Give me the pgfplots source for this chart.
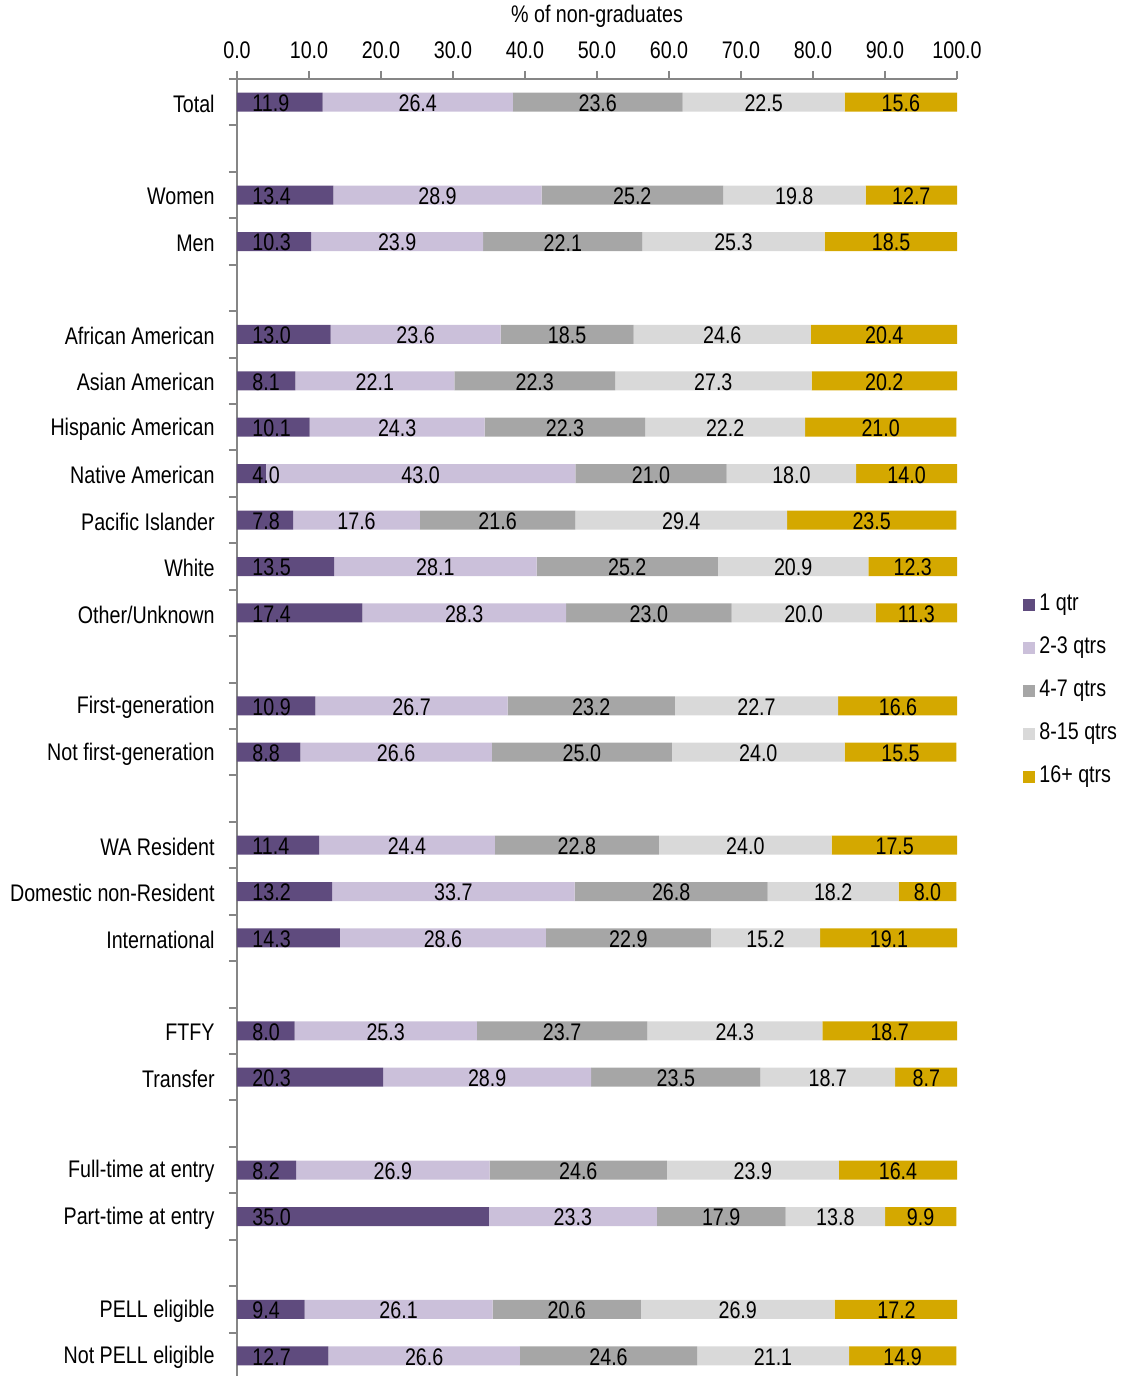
\documentclass[border=0pt]{standalone}
\usepackage{fontspec}
\setmainfont{Liberation Sans}[FakeStretch=0.82]
\usepackage{pgfplots}
\usepackage{pgfplotstable}
\pgfplotsset{compat=1.18}
\definecolor{c1}{HTML}{5F4B7E}
\definecolor{c2}{HTML}{CBC0DA}
\definecolor{c3}{HTML}{A6A6A6}
\definecolor{c4}{HTML}{D9D9D9}
\definecolor{c5}{HTML}{D4A800}
\definecolor{axgray}{HTML}{868686}
\newcommand\lf{\fontsize{12pt}{14pt}\selectfont}
\pgfplotstableread{
pos a b c d e
27 11.9 26.4 23.6 22.5 15.6
25 13.4 28.9 25.2 19.8 12.7
24 10.3 23.9 22.1 25.3 18.5
22 13.0 23.6 18.5 24.6 20.4
21 8.1 22.1 22.3 27.3 20.2
20 10.1 24.3 22.3 22.2 21.0
19 4.0 43.0 21.0 18.0 14.0
18 7.8 17.6 21.6 29.4 23.5
17 13.5 28.1 25.2 20.9 12.3
16 17.4 28.3 23.0 20.0 11.3
14 10.9 26.7 23.2 22.7 16.6
13 8.8 26.6 25.0 24.0 15.5
11 11.4 24.4 22.8 24.0 17.5
10 13.2 33.7 26.8 18.2 8.0
9 14.3 28.6 22.9 15.2 19.1
7 8.0 25.3 23.7 24.3 18.7
6 20.3 28.9 23.5 18.7 8.7
4 8.2 26.9 24.6 23.9 16.4
3 35.0 23.3 17.9 13.8 9.9
1 9.4 26.1 20.6 26.9 17.2
0 12.7 26.6 24.6 21.1 14.9
}\data
\begin{document}
\begin{tikzpicture}
\begin{axis}[
  at={(0,0)}, anchor=north west,
  width=360pt, height=650pt, scale only axis,
  xbar stacked, bar width=9.5pt,
  xmin=0, xmax=100, ymin=-0.5, ymax=27.5,
  axis x line*=top, axis y line*=left,
  axis line style={draw=axgray, line width=1pt},
  tick style={draw=axgray, line width=1pt},
  tick align=outside, major tick length=4pt,
  xtick={0,10,...,100},
  scaled x ticks=false,
  /pgf/number format/assume math mode=true,
  xticklabel style={font=\lf, yshift=2.5pt, /pgf/number format/.cd, fixed, fixed zerofill, precision=1},
  xlabel={\% of non-graduates},
  xlabel style={font=\lf, at={(axis description cs:0.5,1)}, anchor=base, yshift=28pt},
  ytick={-0.5,0.5,...,27.5},
  yticklabels={},
  extra y ticks={27,25,24,22,21,20,19,18,17,16,14,13,11,10,9,7,6,4,3,1,0},
  extra y tick labels={Total,Women,Men,African American,Asian American,Hispanic American,Native American,Pacific Islander,White,Other/Unknown,First-generation,Not first-generation,WA Resident,Domestic non-Resident,International,FTFY,Transfer,Full-time at entry,Part-time at entry,PELL eligible,Not PELL eligible},
  extra y tick style={major tick length=0pt, tick style={draw=none}},
  yticklabel style={font=\lf, inner sep=0pt, xshift=-11pt, yshift=-0.8pt},
  legend style={at={(axis description cs:1.0917,0.5295)}, anchor=west, draw=none, fill=none, font=\lf, inner sep=0pt, row sep=7pt, nodes={inner sep=2pt, text height=8pt, text depth=2.5pt}},
  legend cell align=left,
  legend image code/.code={\fill[#1] (0pt,-3pt) rectangle (6pt,3pt);},
]
\addplot[fill=c1, draw=none] table[x=a, y=pos] {\data};
\addplot[fill=c2, draw=none] table[x=b, y=pos] {\data};
\addplot[fill=c3, draw=none] table[x=c, y=pos] {\data};
\addplot[fill=c4, draw=none] table[x=d, y=pos] {\data};
\addplot[fill=c5, draw=none] table[x=e, y=pos] {\data};
\legend{1 qtr, 2-3 qtrs, 4-7 qtrs, 8-15 qtrs, 16+ qtrs}
\end{axis}
\begin{axis}[
  at={(0,0)}, anchor=north west,
  width=360pt, height=650pt, scale only axis,
  xmin=0, xmax=100, ymin=-0.5, ymax=27.5, hide axis,
  nodes near coords, point meta=explicit symbolic,
  every node near coord/.append style={font=\lf, anchor=center, inner sep=0pt, yshift=-0.6pt, text=black},
]
\addplot[draw=none, mark=none, every node near coord/.append style={anchor=west, xshift=7.5pt}] table[x expr=0, y=pos, meta=a] {\data};
\addplot[draw=none, mark=none] table[x expr=\thisrow{a}+\thisrow{b}/2, y=pos, meta=b] {\data};
\addplot[draw=none, mark=none] table[x expr=\thisrow{a}+\thisrow{b}+\thisrow{c}/2, y=pos, meta=c] {\data};
\addplot[draw=none, mark=none] table[x expr=\thisrow{a}+\thisrow{b}+\thisrow{c}+\thisrow{d}/2, y=pos, meta=d] {\data};
\addplot[draw=none, mark=none] table[x expr=\thisrow{a}+\thisrow{b}+\thisrow{c}+\thisrow{d}+\thisrow{e}/2, y=pos, meta=e] {\data};
\end{axis}
\pgfresetboundingbox
\path[use as bounding box] (-118.5pt,39.5pt) rectangle (442.5pt,-648.5pt);
\end{tikzpicture}
\end{document}
